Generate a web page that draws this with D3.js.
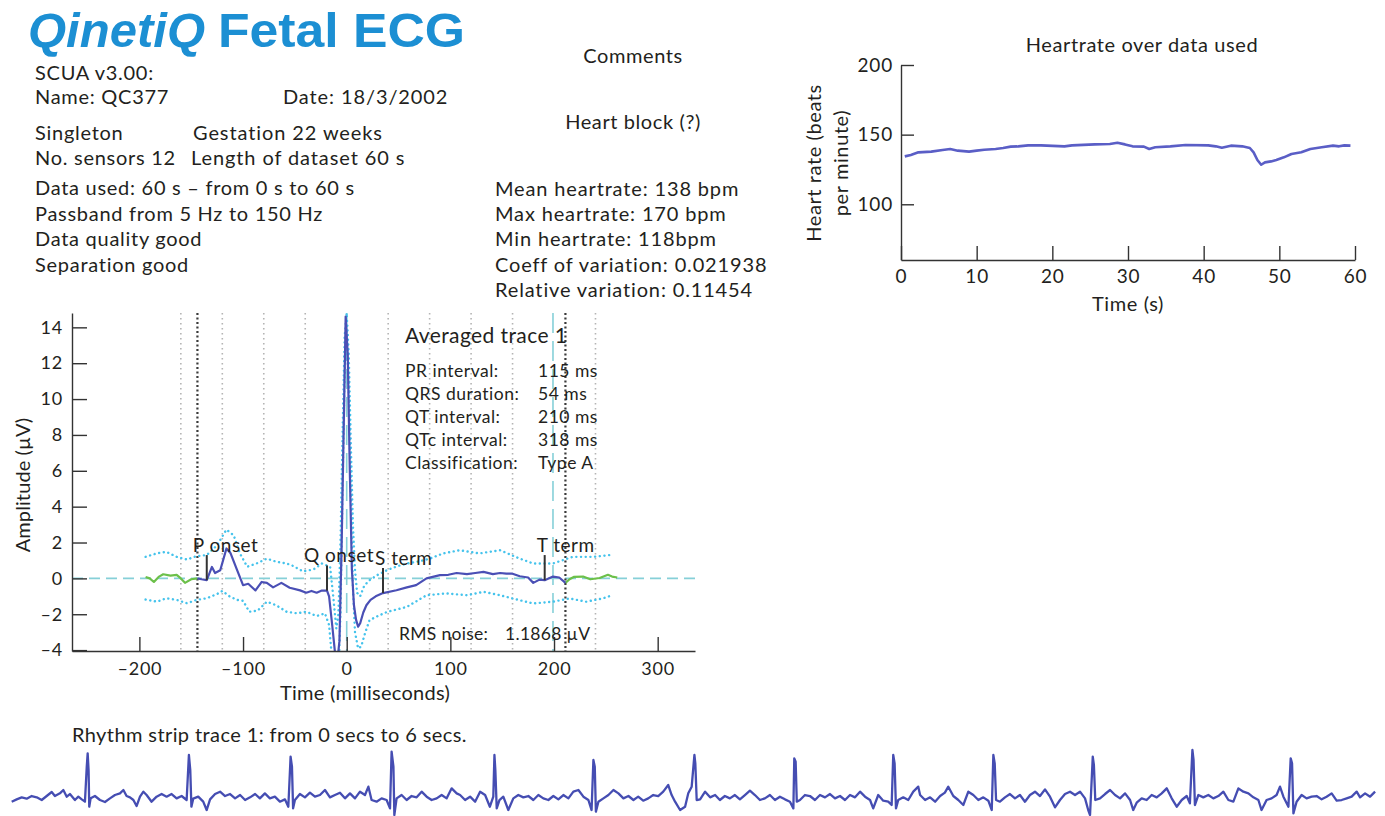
<!DOCTYPE html>
<html>
<head>
<meta charset="utf-8">
<script src="https://cdn.jsdelivr.net/npm/d3@7"></script>
<style>
  html, body { margin: 0; padding: 0; background: #ffffff; }
  svg { display: block; }
</style>
</head>
<body>
<svg id="chart" width="1385" height="816"></svg>
<script>
// ---------------- report text ----------------
const brandWord = "QinetiQ";
const titleWord = "Fetal ECG";
const infoRows = [
  ["SCUA v3.00:", ""],
  ["Name: QC377", "Date: 18/3/2002"],
  ["Singleton", "Gestation 22 weeks"],
  ["No. sensors 12", "Length of dataset 60 s"],
  ["Data used: 60 s \u2013 from 0 s to 60 s", ""],
  ["Passband from 5 Hz to 150 Hz", ""],
  ["Data quality good", ""],
  ["Separation good", ""]
];
const commentLines = ["Comments", "Heart block (?)"];
const summaryLines = [
  "Mean heartrate: 138 bpm",
  "Max heartrate: 170 bpm",
  "Min heartrate: 118bpm",
  "Coeff of variation: 0.021938",
  "Relative variation: 0.11454"
];

// ---------------- heart rate over data used ----------------
const hrTime = [0.5,1.3,2.3,4.0,5.5,6.5,7.5,9.0,10.0,11.0,12.5,13.5,14.5,15.5,16.8,18.5,21.6,22.6,25.6,27.6,
  28.6,29.6,30.6,32.1,32.8,33.6,35.6,37.6,40.6,41.6,42.4,43.6,45.1,46.1,46.6,47.1,47.6,48.1,48.9,49.6,
  50.6,51.6,52.9,54.1,55.6,57.1,57.9,58.6,59.4];
const hrBpm = [134.4,135.4,137.3,137.8,139.0,139.7,138.5,137.8,138.5,139.2,139.7,140.4,141.4,141.6,142.3,142.3,141.6,142.3,143.0,143.3,
  144.2,143.0,141.6,141.4,139.7,140.9,141.6,142.6,142.3,141.6,140.6,142.1,141.6,140.4,137.3,131.8,128.4,130.1,130.8,131.8,
  133.7,136.1,137.3,139.7,140.9,142.1,141.6,142.3,142.1];
const hrYTicks = [100, 150, 200];
const hrXTicks = [0, 10, 20, 30, 40, 50, 60];

// ---------------- averaged trace (ms, microvolts) ----------------
const avgTrace = [[-144,0.0],[-140,-0.05],[-135,-0.1],[-130,0.64],[-127,0.3],[-122,0.45],[-116,1.67],[-112,1.4],[-106,0.5],
  [-100,-0.38],[-95,-0.3],[-88,-0.67],[-82,-0.2],[-77,-0.25],[-71,-0.5],[-63,-0.25],[-55,-0.52],[-45,-0.67],[-39,-0.8],
  [-34,-0.7],[-29,-0.8],[-24,-0.68],[-19,-0.68],[-17,-1.0],[-14,-2.6],[-11,-4.3],[-9,-4.6],[-7,-3.5],[-5,1.5],[-3,8.0],
  [-1,14.6],[1,12.5],[3,6.0],[5,0.5],[7,-1.5],[9,-2.3],[11,-2.7],[13,-2.5],[16,-1.9],[19,-1.5],[23,-1.2],[28,-1.0],
  [35,-0.82],[48,-0.66],[58,-0.5],[67,-0.38],[77,0.0],[90,0.18],[98,0.2],[106,0.3],[116,0.24],[124,0.3],[132,0.36],
  [141,0.24],[148,0.3],[154,0.26],[160,0.26],[167,0.12],[175,0.05],[180,-0.25],[186,-0.07],[191,-0.1],[199,0.1],
  [205,0.05],[211,-0.25]];
const avgLead = [[-194,0.08],[-190,0.0],[-186,-0.2],[-181,0.1],[-177,0.23],[-170,0.15],[-164,0.2],[-160,0.0],[-156,-0.25],[-150,-0.05],[-144,0.0]];
const avgTail = [[211,-0.25],[215,-0.05],[219,0.08],[228,0.1],[235,-0.05],[244,0.02],[252,0.2],[256,0.1],[261,0.05]];
const avgUpper = [[-194,1.2],[-183,1.4],[-174,1.48],[-164,1.2],[-154,1.05],[-145,1.24],[-135,1.3],[-125,1.85],[-116,2.72],
  [-109,2.4],[-103,1.39],[-96,0.65],[-87,0.83],[-77,1.1],[-68,0.93],[-58,0.83],[-52,0.7],[-42,0.39],[-32,0.5],[-24,0.83],
  [-16,0.65],[-13,-1.0],[-10,-2.8],[-8,-2.0],[-6,2.0],[-4,8.0],[-2,13.5],[0,14.8],[2,12.5],[4,7.5],[6,3.0],[8,0.5],
  [10,-0.8],[13,-1.0],[17,-0.4],[22,-0.1],[30,0.2],[39,0.46],[50,0.7],[60,0.85],[70,0.95],[80,1.1],[93,1.39],[109,1.57],
  [128,1.39],[148,1.57],[167,1.1],[180,0.83],[199,0.83],[218,1.2],[238,1.2],[254,1.3]];
const avgLower = [[-194,-1.18],[-183,-1.3],[-174,-1.11],[-164,-1.2],[-154,-1.39],[-145,-1.2],[-135,-1.11],[-125,-0.87],
  [-120,-0.7],[-113,-1.0],[-106,-1.2],[-100,-1.25],[-94,-1.86],[-86,-1.8],[-77,-1.3],[-68,-1.5],[-58,-1.86],[-48,-1.95],
  [-39,-1.86],[-29,-2.1],[-21,-1.95],[-17,-2.6],[-14,-4.6],[-11,-6.0],[-8,-5.5],[-6,-2.0],[-4,5.0],[-2,11.5],[0,13.8],
  [2,10.5],[4,4.5],[6,-0.5],[8,-3.0],[11,-3.9],[14,-3.8],[18,-3.0],[22,-2.33],[30,-2.1],[39,-1.87],[58,-1.59],[77,-0.94],
  [96,-0.84],[116,-0.94],[132,-0.75],[148,-0.94],[167,-1.22],[180,-1.4],[199,-1.3],[215,-1.12],[231,-1.3],[247,-1.12],[256,-0.94]];
const fiducialNames = ["P onset", "Q onset", "S term", "T term"];
const fiducialTimes = [-135, -19, 35, 191];
const fiducialLevels = [-0.1, -0.68, -0.82, -0.1];
const fiducialLabelShift = [14, 23, 8, 8];
const gridTimes = [-160, -120, -80, -40, 40, 80, 120, 160, 240];
const refTimes = [0, 199];
const windowTimes = [-144, 211];
const avgYTicks = [-4, -2, 0, 2, 4, 6, 8, 10, 12, 14];
const avgXTicks = [-200, -100, 0, 100, 200, 300];
const traceTitle = "Averaged trace 1";
const intervalNames = ["PR interval:", "QRS duration:", "QT interval:", "QTc interval:", "Classification:"];
const intervalValues = ["115 ms", "54 ms", "210 ms", "318 ms", "Type A"];
const noiseLabel = ["RMS noise:", "1.1868 \u00b5V"];

// ---------------- rhythm strip (ms, amplitude) ----------------
const stripTitle = "Rhythm strip trace 1: from 0 secs to 6 secs.";
const strip = [
  [3,-1.5],[25,-0.8],[47,-0.2],[69,-0.6],[91,0.2],[113,-0.2],[135,-1.0],[157,0.2],[179,1.4],[193,0.2],[215,1.0],[230,2.0],
  [245,0.0],[259,0.8],[281,-1.0],[296,0.0],[311,-0.8],[325,-1.5],[333,9.0],[337,13.0],[341,8.0],[344,-3.0],[350,-0.5],
  [369,0.2],[391,-1.0],[413,-1.6],[435,-0.5],[457,0.5],[479,1.0],[494,2.0],[508,0.2],[523,-0.2],[538,-1.0],[552,-2.8],
  [567,0.0],[582,1.5],[596,0.5],[618,-1.5],[640,0.0],[662,0.8],[684,0.0],[706,0.8],[728,-0.5],[750,0.2],[772,-1.0],
  [782,12.5],[788,8.0],[793,-3.0],[801,-0.6],[823,0.0],[845,-1.5],[860,-4.0],[875,-0.8],[897,0.8],[919,1.5],[941,0.2],
  [963,0.8],[985,-0.5],[1007,0.5],[1029,-1.0],[1051,-0.2],[1073,0.8],[1094,-0.5],[1116,1.0],[1138,-0.5],[1160,0.0],
  [1182,-1.5],[1204,-0.8],[1219,-3.0],[1229,12.0],[1235,9.0],[1240,-3.5],[1248,-1.0],[1270,0.8],[1292,-0.2],[1314,1.2],
  [1336,0.0],[1358,0.5],[1380,2.0],[1402,-0.2],[1424,0.5],[1446,1.2],[1468,-0.5],[1490,1.0],[1512,-0.5],[1534,1.5],
  [1556,0.5],[1571,3.0],[1585,-1.0],[1607,-1.5],[1629,-0.5],[1651,-1.0],[1666,-3.5],[1673,13.5],[1681,9.0],[1685,-5.5],
  [1695,-0.5],[1717,0.5],[1739,-1.0],[1761,0.2],[1783,-0.2],[1805,1.5],[1827,0.0],[1849,-1.0],[1871,-0.5],[1893,0.5],
  [1915,-0.5],[1937,2.5],[1959,1.0],[1974,0.5],
  [1996,-1.0],[2018,0.0],[2040,-1.5],[2062,1.5],[2084,0.5],[2105,-3.0],[2120,0.0],[2125,12.5],[2129,8.0],[2135,-3.5],
  [2147,-1.0],[2164,0.0],[2186,-4.0],[2208,-0.5],[2230,0.5],[2252,-0.2],[2274,0.2],[2296,-1.0],[2318,0.5],[2340,-0.5],
  [2362,-1.0],[2384,0.2],[2406,-0.8],[2428,0.5],[2450,-0.5],[2472,1.5],[2494,2.0],[2516,0.0],[2538,-1.0],[2552,-4.0],
  [2560,11.0],[2566,9.0],[2571,-4.5],[2582,-1.5],[2604,-0.5],[2626,0.5],[2648,2.0],[2670,1.0],[2692,-0.5],[2714,0.2],
  [2736,-1.0],[2757,0.0],[2779,-1.2],[2801,-0.5],[2823,0.5],[2845,0.2],[2867,1.5],[2889,3.5],[2904,0.5],[2919,-1.5],
  [2941,-4.0],[2963,-3.0],[2977,1.0],[2992,3.0],[3004,12.5],[3008,10.0],[3014,-1.0],[3029,-0.8],[3051,1.5],[3073,-0.2],
  [3095,0.5],[3116,-1.0],[3138,0.2],[3160,-0.5],[3182,0.5],[3204,-0.8],[3226,0.5],[3248,1.8],[3270,0.5],[3292,-1.0],
  [3314,-0.5],[3336,0.5],[3358,-1.0],[3380,0.0],[3402,-0.8],[3424,-1.5],[3439,-3.5],[3443,11.5],[3449,10.5],[3454,-1.5],
  [3468,-1.0],[3490,0.5],[3512,0.2],[3534,-1.0],[3556,0.5],[3578,-0.2],[3600,0.8],[3622,-0.5],[3644,0.2],[3666,-1.0],
  [3688,0.5],[3710,-0.2],[3732,1.5],[3754,0.0],[3776,-1.0],[3790,-3.5],[3812,0.5],[3834,-1.2],[3856,-1.5],[3871,-2.5],
  [3878,12.5],[3884,10.0],[3890,-3.5],[3900,-1.0],[3922,-0.2],[3944,-1.0],[3966,1.5],[3988,3.0],
  [3996,0.5],[4018,-1.0],[4040,-0.2],[4062,-1.5],[4084,0.2],[4105,1.2],[4120,3.0],[4142,0.2],[4164,-1.0],[4186,-2.5],
  [4208,1.5],[4230,0.5],[4252,-1.0],[4274,-0.2],[4296,-1.2],[4311,-4.0],[4318,12.5],[4324,10.0],[4330,-1.0],[4347,-1.5],
  [4369,-0.2],[4391,0.8],[4413,-0.5],[4435,0.5],[4457,-1.5],[4479,0.5],[4501,1.5],[4523,0.2],[4545,2.2],[4567,0.0],
  [4589,-3.2],[4611,-1.0],[4633,0.8],[4655,1.5],[4677,0.5],[4699,1.5],[4721,-0.5],[4735,-4.0],[4743,-5.5],[4755,12.0],
  [4760,9.5],[4766,-1.0],[4787,-0.5],[4809,0.8],[4831,2.0],[4853,0.5],[4875,-0.5],[4897,1.0],[4919,-1.0],[4933,-4.0],
  [4948,-1.8],[4970,-0.5],[4992,-1.0],[5014,0.5],[5036,-0.2],[5058,1.0],[5080,2.5],[5102,-0.5],[5124,-3.0],[5146,-1.0],
  [5168,0.2],[5182,-2.0],[5193,14.0],[5198,11.0],[5204,-2.5],[5219,0.5],[5241,-0.2],[5263,0.5],[5285,-0.5],[5307,0.2],
  [5329,1.5],[5351,-1.0],[5373,-1.5],[5395,2.5],[5417,1.5],[5439,1.0],[5461,-0.2],[5483,-1.0],[5497,-4.0],[5519,-1.0],
  [5541,-0.5],[5563,0.5],[5578,3.0],[5593,0.0],[5615,-3.0],[5625,11.5],[5631,10.0],[5637,-5.0],[5651,-1.5],[5673,0.5],
  [5695,-0.5],[5717,0.0],[5739,0.2],[5761,-0.8],[5783,0.0],[5805,1.0],[5827,-1.2],[5849,-1.0],[5871,-0.5],[5893,0.0],
  [5915,1.5],[5930,-0.2],[5952,1.0],[5974,0.0],[5996,1.5]
];

// ---------------- drawing ----------------
const FONT = "Lato, 'Open Sans', sans-serif";
const INK = "#231f20";
const TRACE = "#4a4fb5";
const svg = d3.select("#chart");
svg.append("rect").attr("width", 1385).attr("height", 816).attr("fill", "#fff");

function label(g, x, y, str, size, anchor, spacing) {
  return g.append("text")
    .attr("x", x).attr("y", y)
    .attr("text-anchor", anchor || "start")
    .style("font-family", FONT)
    .style("font-size", size + "px")
    .style("letter-spacing", (spacing || 0) + "px")
    .style("fill", INK)
    .text(str);
}

// title
const head = svg.append("g");
head.append("text").attr("x", 28).attr("y", 47)
  .attr("textLength", 177).attr("lengthAdjust", "spacingAndGlyphs")
  .style("font-family", "'Liberation Sans', Arial, sans-serif")
  .style("font-weight", 700).style("font-style", "italic")
  .style("font-size", "48px").style("fill", "#1c8fd3")
  .text(brandWord);
head.append("text").attr("x", 218).attr("y", 47)
  .attr("textLength", 247).attr("lengthAdjust", "spacingAndGlyphs")
  .style("font-family", "'Liberation Sans', Arial, sans-serif")
  .style("font-weight", 700)
  .style("font-size", "48px").style("fill", "#1c8fd3")
  .text(titleWord);

// patient / recording details
const infoY = [80, 104, 140, 165, 195, 221, 246, 272];
const infoX2 = [0, 283, 193, 191, 0, 0, 0, 0];
infoRows.forEach((row, i) => {
  label(head, 35, infoY[i], row[0], 20, "start", 0.72);
  if (row[1]) label(head, infoX2[i], infoY[i], row[1], 20, "start", 0.9);
});

// comments and summary
label(head, 633, 63, commentLines[0], 20, "middle", 0.6);
label(head, 633, 129, commentLines[1], 20, "middle", 0.6);
summaryLines.forEach((s, i) => label(head, 495, 196 + i * 25.2, s, 20, "start", 0.85));

// ---- heart rate panel ----
const hr = svg.append("g");
const hrX = d3.scaleLinear().domain([0, 60]).range([901, 1355]);
const hrY = d3.scaleLinear().domain([60, 200]).range([260, 65]);
const hrLine = d3.line().x((d, i) => hrX(hrTime[i])).y(d => hrY(d));
hr.append("path").datum(hrBpm).attr("d", hrLine)
  .attr("fill", "none").attr("stroke", "#5a5ec6").attr("stroke-width", 2.6)
  .attr("stroke-linejoin", "round");

function styleAxis(g, size, spacing) {
  g.select(".domain").attr("stroke", "#333").attr("stroke-width", 1.4);
  g.selectAll(".tick line").attr("stroke", "#333").attr("stroke-width", 1.4);
  g.selectAll(".tick text").style("font-family", FONT).style("font-size", size + "px")
    .style("letter-spacing", (spacing || 0) + "px").style("fill", INK);
}
hr.append("g").attr("transform", "translate(901,0)")
  .call(d3.axisLeft(hrY).tickValues(hrYTicks).tickSizeInner(-13).tickSizeOuter(0).tickPadding(8))
  .call(g => styleAxis(g, 19, 0.8));
hr.append("g").attr("transform", "translate(0,260)")
  .call(d3.axisBottom(hrX).tickValues(hrXTicks).tickSizeInner(-14).tickSizeOuter(0).tickPadding(10))
  .call(g => styleAxis(g, 19, 0.8));
label(hr, 1142, 52, "Heartrate over data used", 20, "middle", 0.6);
label(hr, 1128, 311, "Time (s)", 20, "middle", 0.6);
label(hr, 0, 0, "Heart rate (beats", 20, "middle", 0.6).attr("transform", "translate(821,163) rotate(-90)");
label(hr, 0, 0, "per minute)", 20, "middle", 0.6).attr("transform", "translate(848,163) rotate(-90)");

// ---- averaged trace panel ----
const av = svg.append("g");
const avX = d3.scaleLinear().domain([-265, 336]).range([72, 695]);
const avY = d3.scaleLinear().domain([-4.05, 14.8]).range([651, 313]);
svg.append("clipPath").attr("id", "avClip").append("rect")
  .attr("x", avX(-265)).attr("y", avY(14.8))
  .attr("width", avX(336) - avX(-265)).attr("height", avY(-4.05) - avY(14.8));

// vertical guide lines
av.selectAll(".grid").data(gridTimes).join("line")
  .attr("x1", d => avX(d)).attr("x2", d => avX(d))
  .attr("y1", avY(14.8)).attr("y2", avY(-4.05))
  .attr("stroke", "#b4b4b4").attr("stroke-width", 1.6).attr("stroke-dasharray", "1.6,3.4");
av.selectAll(".ref").data(refTimes).join("line")
  .attr("x1", d => avX(d)).attr("x2", d => avX(d))
  .attr("y1", avY(14.8)).attr("y2", avY(-4.05))
  .attr("stroke", "#86d0d8").attr("stroke-width", 1.6).attr("stroke-dasharray", "20,8");
av.append("line")
  .attr("x1", avX(-265)).attr("x2", avX(336)).attr("y1", avY(0)).attr("y2", avY(0))
  .attr("stroke", "#86d0d8").attr("stroke-width", 1.6).attr("stroke-dasharray", "11,6");
av.selectAll(".win").data(windowTimes).join("line")
  .attr("x1", d => avX(d)).attr("x2", d => avX(d))
  .attr("y1", avY(14.8)).attr("y2", avY(-4.05))
  .attr("stroke", "#3a3a3a").attr("stroke-width", 2.2).attr("stroke-dasharray", "2,2.5");

const avLine = d3.line().x(d => avX(d[0])).y(d => avY(d[1]));
const clipped = av.append("g").attr("clip-path", "url(#avClip)");
[avgUpper, avgLower].forEach(b => {
  clipped.append("path").datum(b).attr("d", avLine).attr("fill", "none")
    .attr("stroke", "#45c3ec").attr("stroke-width", 2.4)
    .attr("stroke-dasharray", "0.1,4.6").attr("stroke-linecap", "round");
});
[avgLead, avgTail].forEach(s => {
  clipped.append("path").datum(s).attr("d", avLine).attr("fill", "none")
    .attr("stroke", "#6cc04a").attr("stroke-width", 2.2).attr("stroke-linejoin", "round");
});
clipped.append("path").datum(avgTrace).attr("d", avLine).attr("fill", "none")
  .attr("stroke", TRACE).attr("stroke-width", 2.2).attr("stroke-linejoin", "round");

// fiducial markers
fiducialTimes.forEach((t, i) => {
  av.append("line")
    .attr("x1", avX(t)).attr("x2", avX(t))
    .attr("y1", avY(fiducialLevels[i])).attr("y2", avY(fiducialLevels[i] + 1.4))
    .attr("stroke", "#333").attr("stroke-width", 2);
  label(av, avX(t) - fiducialLabelShift[i], avY(fiducialLevels[i] + 1.4) - 3, fiducialNames[i], 19, "start", 0.5);
});

av.append("g").attr("transform", "translate(72,0)")
  .call(d3.axisLeft(avY).tickValues(avgYTicks).tickSizeInner(-15).tickSizeOuter(0).tickPadding(9)
    .tickFormat(d => d < 0 ? "\u2013" + Math.abs(d) : d))
  .call(g => styleAxis(g, 18, 0.8));
av.append("g").attr("transform", "translate(0,651)")
  .call(d3.axisBottom(avX).tickValues(avgXTicks).tickSizeInner(-14).tickSizeOuter(0).tickPadding(11)
    .tickFormat(d => d < 0 ? "\u2013" + Math.abs(d) : d))
  .call(g => styleAxis(g, 18, 0.8));
label(av, 365, 700, "Time (milliseconds)", 20, "middle", 0.25);
label(av, 0, 0, "Amplitude (\u00b5V)", 20, "middle", 0.1).attr("transform", "translate(30,485) rotate(-90)");

// interval summary
label(av, 405, 343, traceTitle, 21, "start", 0.4);
intervalNames.forEach((n, i) => {
  label(av, 405, 377 + i * 23, n, 17.5, "start", 0.5);
  label(av, 538, 377 + i * 23, intervalValues[i], 17.5, "start", 0.5);
});
label(av, 399, 640, noiseLabel[0], 17.5, "start", 0.3);
label(av, 505, 640, noiseLabel[1], 17.5, "start", 0.3);

// ---- rhythm strip ----
const rs = svg.append("g");
const rsX = d3.scaleLinear().domain([0, 6000]).range([11, 1376]);
const rsY = d3.scaleLinear().domain([-6, 16]).range([816.7, 743.3]);
label(rs, 72, 742, stripTitle, 20, "start", 0.4);
rs.append("path").datum(strip)
  .attr("d", d3.line().x(d => rsX(d[0])).y(d => rsY(d[1])))
  .attr("fill", "none").attr("stroke", "#454db2").attr("stroke-width", 2.3)
  .attr("stroke-linejoin", "round");
</script>
</body>
</html>
